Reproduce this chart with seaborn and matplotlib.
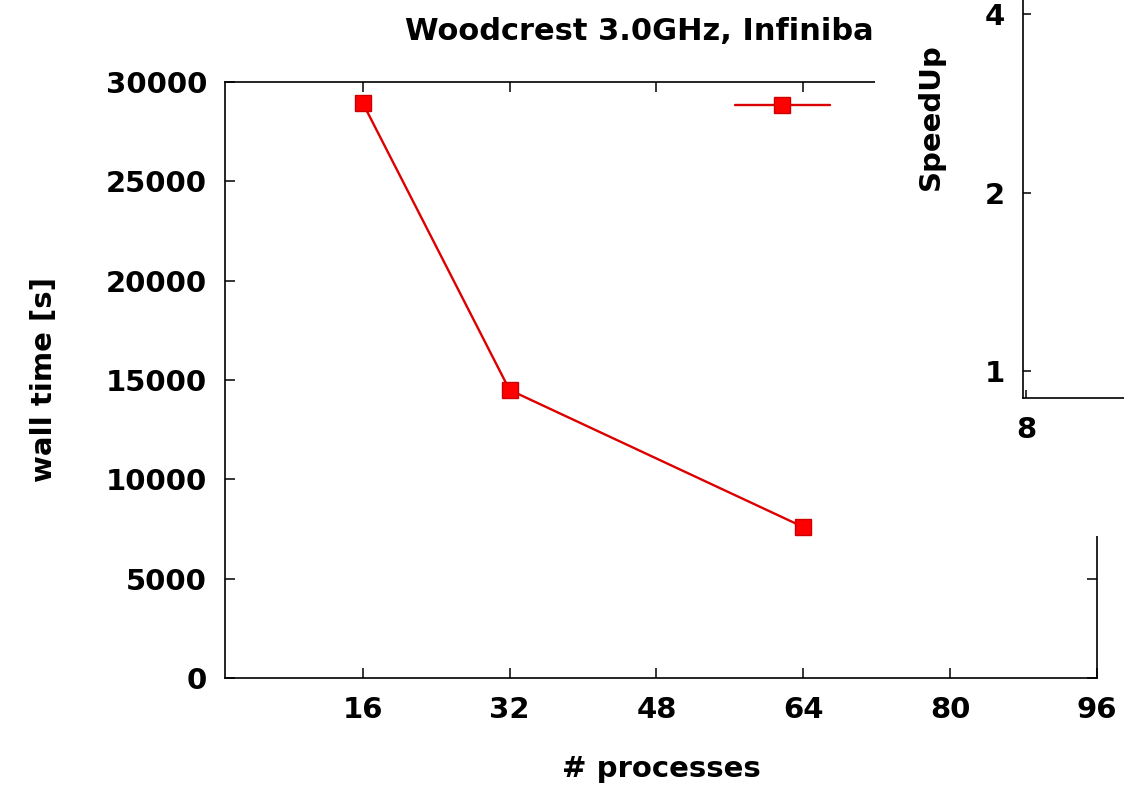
import matplotlib
matplotlib.use("Agg")
import matplotlib.pyplot as plt
import seaborn as sns
import pandas as pd
from matplotlib.patches import Rectangle
from matplotlib.lines import Line2D

# ---- data ----
processes = [16, 32, 64]
wall_time = [28950, 14500, 7600]
x_ticks = [16, 32, 48, 64, 80, 96]
y_ticks = [0, 5000, 10000, 15000, 20000, 25000, 30000]
inset_y_ticks = [1, 2, 4]
inset_x_ticks = [8]
title = "Woodcrest 3.0GHz, Infiniband"

sns.set_theme(style="ticks")
plt.rcParams['font.family'] = ['DejaVu Sans']
plt.rcParams['font.weight'] = 'bold'
plt.rcParams['text.color'] = 'black'
plt.rcParams['axes.labelcolor'] = 'black'

FS = 21
fig = plt.figure(figsize=(11.24, 7.9), dpi=100)
ax = fig.add_axes([225/1124, (790-678)/790, (1097-225)/1124, (678-82)/790])
ax.set_zorder(0)

df = pd.DataFrame({"p": processes, "t": wall_time})
sns.lineplot(data=df, x="p", y="t", ax=ax, color="#dd0000", linewidth=1.7,
             marker="s", markersize=11, markerfacecolor="#ff0000",
             markeredgecolor="#cc0000", markeredgewidth=1)

ax.set_xlim(1, 96)
ax.set_ylim(0, 30000)
ax.set_xticks(x_ticks)
ax.set_yticks(y_ticks)
ax.tick_params(direction="in", length=7, width=1.1, top=True, right=True,
               labelsize=FS, pad=13, colors="black")
for lbl in ax.get_xticklabels() + ax.get_yticklabels():
    lbl.set_fontweight("bold")
for s in ax.spines.values():
    s.set_linewidth(1.2)
    s.set_color("black")
ax.set_xlabel("# processes", fontsize=FS, fontweight="bold", labelpad=22,
              color="black")
ax.set_ylabel("wall time [s]", fontsize=FS, fontweight="bold", labelpad=34,
              color="black")
ax.set_title(title, fontsize=22, fontweight="bold", pad=30, color="black")

handle = Line2D([], [], color="#dd0000", linewidth=1.7, marker="s", markersize=11,
                markerfacecolor="#ff0000", markeredgecolor="#cc0000")
ax.legend([handle], [""], loc="center left",
          bbox_to_anchor=((735-225)/872, (678-107)/596),
          frameon=False, borderpad=0, borderaxespad=0, fontsize=FS,
          handlelength=95/(FS/0.72), handletextpad=0.4)

# white panel covering top-right region
fig.patches.append(Rectangle((875/1124, (790-536)/790), 1.0, 1.0,
                             transform=fig.transFigure, facecolor="white",
                             edgecolor="none", zorder=1))

# inset speed-up axes (mostly outside the visible figure)
axi = fig.add_axes([1023/1124, (790-398)/790, 0.5, 0.7114])
axi.set_zorder(2)
axi.set_facecolor("none")
axi.set_xscale("log", base=2)
axi.set_yscale("log", base=2)
axi.set_xlim(7.9, 70)
axi.set_ylim(0.9, 8)
axi.set_xticks(inset_x_ticks)
axi.set_xticklabels([str(v) for v in inset_x_ticks])
axi.set_yticks(inset_y_ticks)
axi.set_yticklabels([str(v) for v in inset_y_ticks])
axi.minorticks_off()
axi.tick_params(direction="in", length=6, width=1.1, labelsize=FS, pad=13,
                colors="black")
for lbl in axi.get_xticklabels() + axi.get_yticklabels():
    lbl.set_fontweight("bold")
for s in axi.spines.values():
    s.set_linewidth(1.2)
    s.set_color("black")
axi.set_ylabel("SpeedUp", fontsize=FS, fontweight="bold", labelpad=29,
               color="black")

fig.savefig("out.png", dpi=100)
